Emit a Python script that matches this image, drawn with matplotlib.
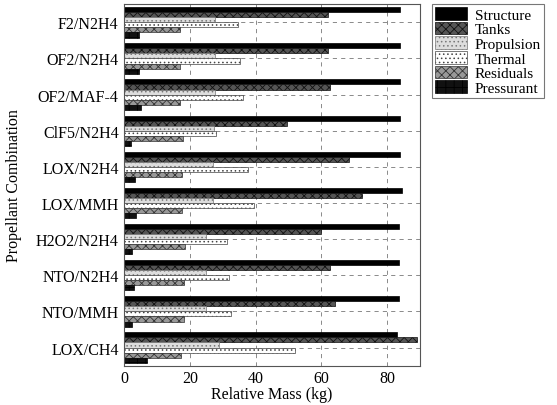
import matplotlib
matplotlib.use("Agg")
import matplotlib.pyplot as plt
import numpy as np

plt.rcParams['font.family'] = ['Liberation Serif', 'DejaVu Serif']
plt.rcParams['hatch.linewidth'] = 0.6

categories = ["F2/N2H4", "OF2/N2H4", "OF2/MAF-4", "ClF5/N2H4", "LOX/N2H4",
              "LOX/MMH", "H2O2/N2H4", "NTO/N2H4", "NTO/MMH", "LOX/CH4"]
series_names = ["Structure", "Tanks", "Propulsion", "Thermal", "Residuals", "Pressurant"]

structure = [84, 84, 84, 84, 84, 84.5, 83.5, 83.5, 83.5, 83]
tanks = [62, 62, 62.5, 49.5, 68.5, 72.5, 60, 62.5, 64, 89]
propulsion = [27.7, 27.7, 27.5, 27.2, 27, 27, 25, 25, 25, 28.7]
thermal = [34.6, 35.3, 36, 27.9, 37.6, 39.4, 31.2, 31.8, 32.4, 51.9]
residuals = [16.9, 17.1, 17, 18, 17.5, 17.7, 18.6, 18.3, 18.3, 17.4]
pressurant = [4.4, 4.6, 5, 2, 3.4, 3.6, 2.3, 2.9, 2.3, 6.9]

values = [structure, tanks, propulsion, thermal, residuals, pressurant]
styles = [
    dict(facecolor="#000000", edgecolor="#000000", hatch=None),
    dict(facecolor="#555555", edgecolor="#111111", hatch="xxxx"),
    dict(facecolor="#dddddd", edgecolor="#777777", hatch="...."),
    dict(facecolor="#ffffff", edgecolor="#444444", hatch="...."),
    dict(facecolor="#999999", edgecolor="#333333", hatch="xxxx"),
    dict(facecolor="#111111", edgecolor="#000000", hatch="++"),
]

fs = 11.5
fig = plt.figure(figsize=(5.57, 4.06), dpi=100)
ax = fig.add_axes([0.223, 0.097, 0.531, 0.89])

y = np.arange(len(categories))
h = 0.14
offsets = (np.arange(6) - 2.5) * h
handles = []
for vals, st, off, name in zip(values, styles, offsets, series_names):
    b = ax.barh(y + off, vals, height=h, label=name, linewidth=0.5, **st)
    handles.append(b)

ax.set_ylim(len(categories) - 0.5, -0.5)
ax.set_xlim(0, 90)
ax.set_yticks(y)
ax.set_yticklabels(categories, fontsize=fs)
ax.set_xticks([0, 20, 40, 60, 80])
ax.tick_params(axis='x', labelsize=fs, length=0, pad=3)
ax.tick_params(axis='y', length=0, pad=4)
ax.grid(True, linestyle=(0, (5, 5)), color="#777777", linewidth=0.6)
ax.set_axisbelow(True)
for s in ax.spines.values():
    s.set_linewidth(0.8)
    s.set_color("#555555")

ax.set_xlabel("Relative Mass (kg)", fontsize=fs, labelpad=0)
ax.set_ylabel("Propellant Combination", fontsize=fs, labelpad=10)

leg = fig.legend(handles=handles, labels=series_names, loc="upper left",
                 bbox_to_anchor=(0.770, 0.995), fontsize=11, frameon=True,
                 fancybox=False, edgecolor="#555555", handlelength=2.1,
                 handleheight=0.9, labelspacing=0.0, borderpad=0.2,
                 handletextpad=0.5, borderaxespad=0.2)
leg.get_frame().set_linewidth(0.8)

fig.savefig("out.png", dpi=100)
